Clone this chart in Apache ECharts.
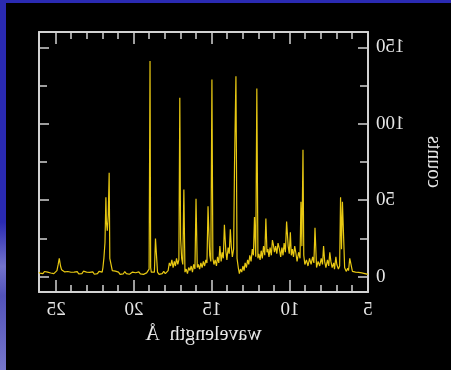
<!DOCTYPE html>
<html>
<head>
<meta charset="utf-8">
<script src="https://cdn.jsdelivr.net/npm/echarts@6/dist/echarts.min.js"></script>
<style>
html,body{margin:0;padding:0;background:#000;overflow:hidden;}
#wrap{position:relative;width:451px;height:370px;transform:scaleX(-1);
background:linear-gradient(to bottom,#2a2ab2 0%,#2a2ab2 60%,#7373cc 72%,#5353ba 80%,#7777cc 100%);}
#panel{position:absolute;left:0;top:3px;width:445px;height:367px;background:#000;}
#chart{position:absolute;left:0;top:0;width:451px;height:370px;}
</style>
</head>
<body>
<div id="wrap"><div id="panel"></div><div id="chart"></div></div>
<script>
// wavelength (Å), counts
const spectrum = [
[5.0,1.5],[5.1,1],[5.2,2],[5.3,1.2],[5.4,2.5],[5.5,1.5],[5.6,2.8],[5.7,1.6],[5.8,3],[5.9,2],
[6.0,3.5],[6.1,2.5],[6.17,12],[6.25,4],[6.3,5.5],[6.4,3.5],[6.5,6],[6.58,5],[6.64,49],[6.7,18],
[6.76,52],[6.82,7],[6.9,5],[7.0,8],[7.06,13],[7.15,5],[7.2,9],[7.3,6],[7.38,10],[7.45,16],
[7.52,7],[7.6,11],[7.7,6],[7.78,10],[7.85,20],[7.92,8],[8.0,12],[8.1,7],[8.2,10],[8.3,6],
[8.4,32],[8.47,9],[8.55,13],[8.65,8],[8.75,12],[8.85,7],[8.95,11],[9.05,8],[9.12,14],[9.17,83],
[9.24,20],[9.3,49],[9.36,12],[9.45,16],[9.55,10],[9.62,15],[9.7,20],[9.78,13],[9.85,18],[9.92,14],
[9.98,29],[10.05,15],[10.12,20],[10.22,36],[10.3,16],[10.38,22],[10.45,14],[10.52,19],[10.6,13],[10.68,18],
[10.77,22],[10.85,15],[10.92,20],[11.0,16],[11.07,21],[11.13,24],[11.2,14],[11.28,19],[11.35,13],[11.42,18],
[11.48,16],[11.55,38],[11.62,14],[11.7,20],[11.78,12],[11.85,17],[11.92,11],[12.0,15],[12.06,12],[12.13,123],
[12.2,13],[12.28,39],[12.35,14],[12.42,18],[12.5,10],[12.58,14],[12.65,8],[12.72,11],[12.8,6],[12.88,9],
[12.95,4],[13.02,7],[13.1,3],[13.18,5],[13.25,2],[13.32,6],[13.4,12],[13.47,131],[13.56,74],[13.62,18],
[13.7,13],[13.77,20],[13.83,31],[13.9,15],[13.97,19],[14.05,11],[14.12,17],[14.21,34],[14.28,12],[14.35,16],
[14.42,10],[14.5,20],[14.57,9],[14.65,13],[14.72,7],[14.8,11],[14.88,8],[14.95,12],[15.01,129],[15.08,10],
[15.15,14],[15.21,30],[15.26,46],[15.33,9],[15.4,11],[15.48,7],[15.56,10],[15.64,6],[15.72,9],[15.8,5],
[15.88,8],[15.95,6],[16.03,51],[16.1,5],[16.18,8],[16.26,3],[16.34,7],[16.42,4],[16.5,6],[16.58,2],
[16.66,5],[16.74,3],[16.81,57],[16.88,8],[16.95,12],[17.02,25],[17.07,117],[17.13,11],[17.2,8],[17.28,12],
[17.35,7],[17.42,10],[17.5,6],[17.58,11],[17.66,7],[17.74,9],[17.82,4],[17.9,3],[18.0,2],[18.1,3.5],
[18.2,2],[18.3,3],[18.4,1.5],[18.5,3],[18.58,4],[18.63,25],[18.7,3],[18.8,4],[18.9,3],[18.94,6],
[18.98,141],[19.04,5],[19.1,4],[19.2,2.5],[19.3,3],[19.4,1.5],[19.5,2.8],[19.6,1.8],[19.7,3.2],[19.8,2],
[19.9,2.6],[20.0,1.4],[20.1,3],[20.2,2.2],[20.3,1.6],[20.4,2.9],[20.5,2],[20.6,3.4],[20.7,1.8],[20.8,2.6],
[20.9,1.5],[21.0,3],[21.1,2.2],[21.2,3.6],[21.3,2.5],[21.4,4],[21.5,5],[21.56,12],[21.6,68],[21.66,40],
[21.72,30],[21.78,36],[21.81,52],[21.87,22],[21.94,12],[22.0,6],[22.05,3],[22.15,2],[22.25,3.5],[22.35,2],
[22.45,3],[22.55,1.6],[22.65,3.2],[22.75,2],[22.85,2.8],[22.95,1.5],[23.05,3],[23.15,2.2],[23.25,3.6],[23.35,2],
[23.45,2.8],[23.55,1.8],[23.65,3.3],[23.75,2.4],[23.85,3],[23.95,1.7],[24.05,2.9],[24.15,2.2],[24.25,3.4],[24.35,2.6],
[24.45,3.1],[24.55,2.5],[24.65,4.5],[24.72,7],[24.8,12],[24.87,8],[24.95,4],[25.05,3],[25.15,2],[25.25,3.2],
[25.35,2.4],[25.45,1.8],[25.55,3],[25.65,2.2],[25.75,3.4],[25.85,2],[25.95,2.8],[26.05,2.3],[26.1,3]
];
const xMajorTicks = [5,10,15,20,25];
const xMinorTicks = [6,7,8,9,11,12,13,14,16,17,18,19,21,22,23,24];
const yMajorTicks = [0,50,100,150];
const yMinorTicks = [25,75,125];
const xName = 'wavelength  Å';
const yName = 'counts';

const frame = '#d2d2d2';
const txt = '#e6e6e6';
const font = 'Liberation Serif';
const X_MIN = 5, X_MAX = 26.1, Y_MIN = -10, Y_MAX = 160;

function xAx(pos, ticks, len, main) {
  return {
    type:'value', position:pos, min:X_MIN, max:X_MAX,
    axisLine:{show:main, onZero:false, lineStyle:{color:frame, width:2}},
    axisTick:{show:true, inside:true, length:len, customValues:ticks, lineStyle:{color:frame, width:1.5}},
    axisLabel: (main && pos==='bottom') ? {show:true, customValues:xMajorTicks, color:txt, fontFamily:font, fontSize:19, margin:9} : {show:false},
    splitLine:{show:false},
    name: (main && pos==='bottom') ? xName : '',
    nameLocation:'middle', nameGap:33,
    nameTextStyle:{color:txt, fontFamily:font, fontSize:20}
  };
}
function yAx(pos, ticks, len, main) {
  return {
    type:'value', position:pos, min:Y_MIN, max:Y_MAX,
    axisLine:{show:main, onZero:false, lineStyle:{color:frame, width:2}},
    axisTick:{show:true, inside:true, length:len, customValues:ticks, lineStyle:{color:frame, width:1.5}},
    axisLabel: (main && pos==='left') ? {show:true, customValues:yMajorTicks, color:txt, fontFamily:font, fontSize:19, margin:8} : {show:false},
    splitLine:{show:false},
    name: (main && pos==='left') ? yName : '',
    nameLocation:'middle', nameGap:55,
    nameTextStyle:{color:txt, fontFamily:font, fontSize:20}
  };
}

const chart = echarts.init(document.getElementById('chart'), null, {renderer:'canvas'});
chart.setOption({
  animation:false,
  backgroundColor:'transparent',
  grid:{left:81, right:39, top:32, bottom:78, containLabel:false},
  xAxis:[
    xAx('bottom', xMajorTicks, 12, true),
    xAx('bottom', xMinorTicks, 7, false),
    xAx('top', xMajorTicks, 12, true),
    xAx('top', xMinorTicks, 7, false)
  ],
  yAxis:[
    yAx('left', yMajorTicks, 10, true),
    yAx('left', yMinorTicks, 8, false),
    yAx('right', yMajorTicks, 10, true),
    yAx('right', yMinorTicks, 8, false)
  ],
  series:[{
    type:'line', xAxisIndex:0, yAxisIndex:0,
    data:spectrum, showSymbol:false, clip:true,
    lineStyle:{color:'#e8c812', width:1.2}
  }]
});
</script>
</body>
</html>
